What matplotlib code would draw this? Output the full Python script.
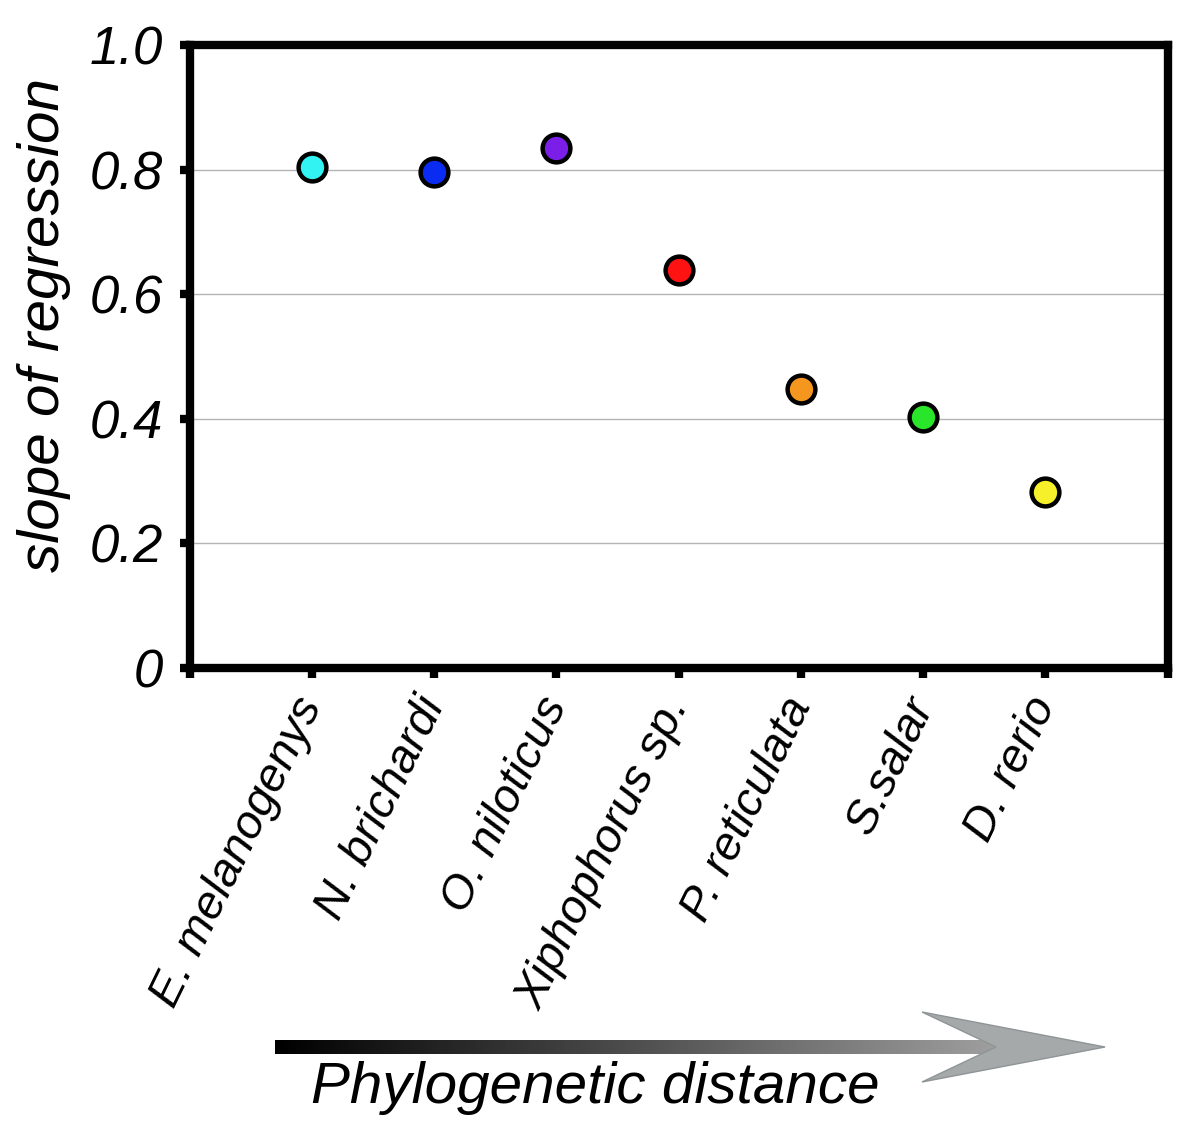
import numpy as np
import matplotlib.pyplot as plt
from matplotlib.patches import Polygon

# species ordered by phylogenetic distance
species = ["E. melanogenys", "N. brichardi", "O. niloticus", "Xiphophorus sp.",
           "P. reticulata", "S.salar", "D. rerio"]
slopes = [0.804, 0.796, 0.835, 0.639, 0.448, 0.403, 0.283]
colors = ["#33f2f2", "#0a2cf2", "#7a1ee8", "#ff1212", "#f5961e", "#2ae62a", "#f5f02a"]
yticks = [0, 0.2, 0.4, 0.6, 0.8, 1.0]
ytick_labels = ["0", "0.2", "0.4", "0.6", "0.8", "1.0"]

plt.rcParams['font.family'] = ['Liberation Sans', 'DejaVu Sans']

fig = plt.figure(figsize=(12, 11.26), dpi=100)
ax = fig.add_axes([0.158, 0.407, 0.815, 0.553])

x = np.arange(1, len(species) + 1)
for xi, yi, c in zip(x, slopes, colors):
    ax.plot(xi, yi, 'o', ms=20, mfc=c, mec='black', mew=3.2, zorder=3, clip_on=False)

ax.set_xlim(0, len(species) + 1)
ax.set_ylim(0, 1.0)
ax.set_yticks(yticks)
ax.set_yticklabels(ytick_labels, fontsize=38, style='italic')
ax.set_xticks(np.arange(0, len(species) + 2))
ax.set_xticklabels([""] + species + [""], fontsize=34, style='italic',
                   rotation=64, ha='right', va='center', rotation_mode='anchor')
ax.tick_params(axis='both', width=6, length=7, direction='out')
ax.tick_params(axis='y', pad=12)
ax.tick_params(axis='x', pad=16)
for s in ax.spines.values():
    s.set_linewidth(6)
ax.grid(axis='y', color='#b4b4b4', lw=1)
ax.set_axisbelow(True)

fig.text(0.037, 0.711, "slope of regression", rotation=90, fontsize=42,
         style='italic', ha='center', va='center')

# phylogenetic distance arrow (decoration in pixel space)
ov = fig.add_axes([0, 0, 1, 1], zorder=-1)
ov.set_xlim(0, 1200)
ov.set_ylim(1126, 0)
ov.axis('off')
grad = np.linspace(0, 0.62, 256).reshape(1, -1)
ov.imshow(grad, cmap='gray', vmin=0, vmax=1, aspect='auto',
          extent=(275, 996, 1054, 1040))
ov.add_patch(Polygon([(922, 1012), (1105, 1047), (922, 1082), (996, 1047)],
                     closed=True, fc='#a6a9aa', ec='#8e9596', lw=1))
ov.set_xlim(0, 1200)
ov.set_ylim(1126, 0)
ov.text(595, 1088, "Phylogenetic distance", fontsize=42, style='italic',
        ha='center', va='center')

fig.savefig("out.png", dpi=100)
